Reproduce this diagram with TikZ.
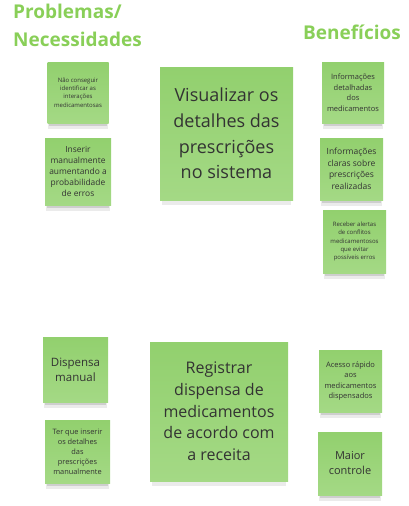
\documentclass[tikz,border=0pt]{standalone}
\usepackage{fontspec}
\setmainfont{Open Sans}
\usetikzlibrary{shadows}
\definecolor{notetop}{RGB}{146,208,110}
\definecolor{notebot}{RGB}{164,217,133}
\definecolor{titlegreen}{RGB}{137,207,88}
\definecolor{notetext}{RGB}{51,51,51}
\newcommand{\fs}[2]{\fontsize{#1}{#2}\selectfont}
\begin{document}
\begin{tikzpicture}[x=1pt,y=-1pt,
	note/.style={rectangle,inner sep=0pt,align=center,text=notetext,
		top color=notetop,bottom color=notebot,
		general shadow={fill=black,opacity=.08,shadow yshift=-7pt,shadow scale=.97},
		general shadow={fill=black,opacity=.12,shadow yshift=-5pt,shadow scale=.94},
		general shadow={fill=black,opacity=.18,shadow yshift=-3.5pt,shadow scale=.91}},
	ttl/.style={text=titlegreen,inner sep=0pt,font=\bfseries\fs{19}{26}}]
		\useasboundingbox (0,0) rectangle (409,506);
		% titulos
		\node[ttl,anchor=base west] (ttlprob) at (13,18.5){Problemas/};
		\node[ttl,anchor=base west] (ttlnec) at (13,46.5){Necessidades};
		\node[ttl,anchor=base east] (ttlben) at (401,39.5){Benefícios};
		% problemas
		\node[note,minimum width=61,minimum height=61,font=\fs{6}{8.4}] (prob1) at (78,92.5){Não conseguir\\identificar as\\interações\\medicamentosas};
		\node[note,minimum width=66,minimum height=67,font=\fs{8.4}{11}] (prob2) at (78,171.5){Inserir\\manualmente\\aumentando a\\probabilidade\\de erros};
		\node[note,minimum width=65,minimum height=65,font=\fs{11.5}{15}] (prob3) at (75.5,369.5){Dispensa\\manual};
		\node[note,minimum width=65,minimum height=63,font=\fs{7.4}{10}] (prob4) at (77.5,451.5){Ter que inserir\\os detalhes\\das\\prescrições\\manualmente};
		% funcionalidades
		\node[note,minimum width=133,minimum height=133,font=\fs{18}{25.7}] (func1) at (226.5,133.5){Visualizar os\\detalhes das\\prescrições\\no sistema};
		\node[note,minimum width=138,minimum height=139,font=\fs{16}{21.7}] (func2) at (219,411.5){Registrar\\dispensa de\\medicamentos\\de acordo com\\a receita};
		% beneficios
		\node[note,minimum width=62,minimum height=61,font=\fs{7.5}{10.5}] (ben1) at (353,92.5){Informações\\detalhadas\\dos\\medicamentos};
		\node[note,minimum width=63,minimum height=62,font=\fs{8.5}{11.5}] (ben2) at (351.5,169){Informações\\claras sobre\\prescrições\\realizadas};
		\node[note,minimum width=63,minimum height=63,font=\fs{6}{8.3}] (ben3) at (354.5,241.5){Receber alertas\\de conflitos\\medicamentosos\\que evitar\\possíveis erros};
		\node[note,minimum width=63,minimum height=62,font=\fs{7.5}{10.5}] (ben4) at (350.5,381){Acesso rápido\\aos\\medicamentos\\dispensados};
		\node[note,minimum width=64,minimum height=63,font=\fs{11}{15}] (ben5) at (350,463.5){Maior\\controle};
\end{tikzpicture}
\end{document}
